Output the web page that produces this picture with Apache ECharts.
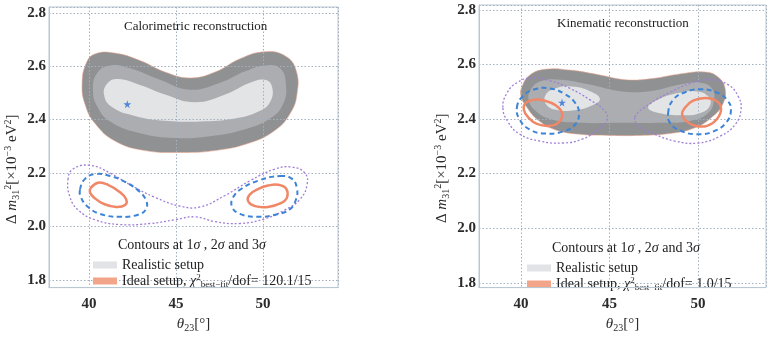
<!DOCTYPE html>
<html>
<head>
<meta charset="utf-8">
<script src="https://cdn.jsdelivr.net/npm/echarts@6/dist/echarts.min.js"></script>
<style>
  html, body { margin: 0; padding: 0; background: #fff; }
  #chart { width: 767px; height: 338px; }
</style>
</head>
<body>
<div id="chart"></div>
<script>
// ---- data: [theta23 (deg), dm31^2 (1e-3 eV^2)] ----
// Calorimetric reconstruction (left panel)
const calOuter = [[39.60,2.530],[39.83,2.610],[40.34,2.646],[41.49,2.649],[42.93,2.621],[44.37,2.578],[45.80,2.556],[47.24,2.578],[48.68,2.628],[50.11,2.654],[51.26,2.639],[51.90,2.585],[51.95,2.494],[51.55,2.422],[50.69,2.360],[49.25,2.313],[47.24,2.284],[45.23,2.277],[43.22,2.284],[41.49,2.320],[40.34,2.386],[39.77,2.458]];
const calMid = [[40.23,2.512],[40.46,2.574],[41.21,2.603],[42.36,2.592],[44.08,2.549],[45.80,2.512],[47.53,2.538],[48.97,2.581],[50.11,2.603],[50.98,2.592],[51.32,2.530],[51.15,2.458],[50.40,2.404],[48.97,2.364],[46.95,2.338],[44.94,2.331],[42.93,2.349],[41.21,2.393],[40.46,2.451]];
const calInner = [[40.86,2.494],[41.09,2.538],[41.67,2.552],[42.93,2.530],[44.37,2.494],[46.09,2.465],[47.82,2.494],[49.25,2.538],[50.11,2.549],[50.52,2.523],[50.40,2.465],[49.71,2.429],[48.39,2.404],[46.38,2.393],[44.37,2.396],[42.64,2.414],[41.32,2.447]];
const cal3s = [[38.79,2.175],[39.08,2.215],[40.06,2.229],[41.21,2.200],[42.36,2.156],[43.79,2.109],[45.23,2.076],[46.38,2.073],[47.82,2.116],[49.25,2.171],[50.69,2.215],[51.67,2.222],[52.41,2.200],[52.53,2.156],[52.13,2.102],[51.26,2.062],[50.11,2.029],[48.68,2.011],[47.24,2.018],[46.09,2.036],[44.94,2.025],[43.51,2.011],[41.78,2.007],[40.34,2.025],[39.37,2.062],[38.91,2.109]];
const cal2sL = [[39.48,2.138],[39.77,2.178],[40.34,2.196],[41.21,2.189],[42.07,2.167],[42.82,2.135],[43.28,2.098],[43.28,2.065],[42.82,2.044],[41.78,2.036],[40.63,2.047],[39.89,2.076],[39.54,2.109]];
const cal2sR = [[50.98,2.189],[51.67,2.178],[51.95,2.142],[51.90,2.102],[51.55,2.065],[50.69,2.044],[49.66,2.036],[48.68,2.047],[48.22,2.073],[48.28,2.109],[48.79,2.142],[49.71,2.171]];
const cal1sL = [[40.11,2.145],[40.52,2.164],[41.09,2.156],[41.72,2.131],[42.13,2.102],[42.07,2.080],[41.55,2.073],[40.86,2.084],[40.34,2.105],[40.06,2.127]];
const cal1sR = [[50.86,2.156],[51.32,2.142],[51.38,2.109],[51.03,2.087],[50.29,2.073],[49.54,2.076],[49.14,2.095],[49.25,2.120],[49.77,2.142],[50.29,2.153]];
const calBest = [[42.2,2.458]];

// Kinematic reconstruction (right panel)
const kinOuter = [[40.06,2.519],[40.51,2.561],[41.36,2.582],[42.77,2.579],[44.46,2.561],[45.88,2.544],[47.29,2.547],[48.98,2.565],[50.40,2.572],[51.13,2.554],[51.53,2.512],[51.41,2.456],[50.79,2.407],[49.83,2.368],[48.42,2.347],[46.72,2.340],[45.03,2.340],[43.33,2.344],[41.92,2.361],[40.96,2.396],[40.34,2.442],[40.00,2.484]];
const kinMid = [[40.51,2.502],[41.07,2.537],[42.20,2.544],[43.90,2.526],[45.59,2.502],[47.29,2.502],[48.98,2.526],[50.11,2.533],[50.79,2.512],[50.90,2.467],[50.56,2.421],[49.55,2.393],[47.85,2.386],[45.59,2.386],[43.33,2.386],[41.64,2.400],[40.79,2.432],[40.45,2.467]];
const kinInnerL = [[41.36,2.484],[41.92,2.512],[42.88,2.519],[43.90,2.502],[44.46,2.474],[44.01,2.449],[43.05,2.432],[42.09,2.432],[41.47,2.449]];
const kinInnerR = [[47.18,2.442],[47.85,2.474],[48.87,2.495],[49.83,2.502],[50.56,2.484],[50.68,2.449],[50.11,2.421],[48.98,2.414],[47.85,2.421]];
const kin3sL = [[38.98,2.442],[39.21,2.495],[39.77,2.533],[40.62,2.551],[41.64,2.540],[42.77,2.512],[43.90,2.470],[44.75,2.428],[44.86,2.396],[44.35,2.361],[43.45,2.326],[42.37,2.312],[41.07,2.319],[39.94,2.344],[39.27,2.389]];
const kin3sR = [[46.44,2.407],[47.29,2.456],[48.42,2.498],[49.55,2.530],[50.68,2.544],[51.69,2.526],[52.26,2.484],[52.43,2.435],[52.09,2.379],[51.24,2.337],[50.00,2.312],[48.70,2.319],[47.57,2.344],[46.72,2.372]];
const kin2sL = [[39.77,2.442],[40.11,2.484],[40.79,2.509],[41.64,2.512],[42.49,2.491],[43.05,2.460],[43.28,2.421],[43.05,2.379],[42.37,2.354],[41.36,2.347],[40.51,2.361],[39.94,2.396]];
const kin2sR = [[48.31,2.421],[48.59,2.470],[49.27,2.498],[50.11,2.509],[51.02,2.498],[51.64,2.470],[51.86,2.432],[51.58,2.386],[50.85,2.354],[49.94,2.344],[48.98,2.358],[48.42,2.386]];
const kin1sL = [[40.23,2.456],[40.68,2.470],[41.36,2.467],[41.98,2.449],[42.32,2.421],[42.15,2.389],[41.64,2.375],[40.90,2.382],[40.40,2.407],[40.17,2.432]];
const kin1sR = [[49.27,2.442],[49.72,2.467],[50.40,2.477],[51.02,2.467],[51.30,2.439],[51.07,2.400],[50.51,2.375],[49.83,2.375],[49.32,2.393],[49.10,2.418]];
const kinBest = [[42.32,2.460]];

const panelTitles = ['Calorimetric reconstruction', 'Kinematic reconstruction'];
const chiValues = ['120.1/15', '1.0/15'];

const SERIF = '"Liberation Serif", "DejaVu Serif", serif';
const REAL = 'Realistic setup';
const idealName = function (i) { return 'Ideal setup, χ2best-fit/dof= ' + chiValues[i]; };

// closed smooth shape drawn through the axis scales
function shape(name, pts, idx, style, z) {
  return {
    name: name,
    type: 'custom',
    xAxisIndex: idx,
    yAxisIndex: idx,
    z: z,
    silent: true,
    data: pts,
    renderItem: function (params, api) {
      if (params.dataIndex !== 0) return;
      const p = pts.map(function (d) { return api.coord(d); });
      return { type: 'polygon', shape: { points: p, smooth: 0.45 }, style: style };
    }
  };
}

const DARK = { fill: '#8f9193', stroke: 'rgba(236,165,140,0.55)', lineWidth: 1 };
const MID = { fill: '#abadb0' };
const LIGHT = { fill: '#e3e4e6' };
const DOT = { fill: 'none', stroke: '#9f7ed8', lineWidth: 1.3, lineDash: [2, 2] };
const DASH = { fill: 'none', stroke: '#3d84d6', lineWidth: 2, lineDash: [5, 3.5] };
const ORANGE = { fill: 'none', stroke: '#f08767', lineWidth: 2.5 };

function star(pts, idx) {
  return {
    type: 'scatter', xAxisIndex: idx, yAxisIndex: idx, z: 6, silent: true,
    symbol: 'path://M50,0 L61,35 L98,35 L68,57 L79,91 L50,70 L21,91 L32,57 L2,35 L39,35 Z',
    symbolSize: 8, itemStyle: { color: '#2b6fd3' }, data: pts
  };
}

const axisCommon = {
  type: 'value',
  z: 4,
  axisLine: { show: true, lineStyle: { color: '#b8c7d4', width: 1 } },
  axisTick: { show: false },
  splitLine: { show: true, lineStyle: { color: '#a3b1bf', type: [1.5, 2], width: 1 } },
  axisLabel: { showMinLabel: false, showMaxLabel: false, color: '#2b2b2b', fontFamily: SERIF, fontSize: 15, fontWeight: 'bold' }
};

const yName = '{d|Δ }{m|m}{s|31}{p|2}{t|[×10}{p|−3}{t| eV}{p|2}{t|]}';
const xName = '{m|θ}{s|23}{t|[°]}';
const nameRich = {
  d: { fontFamily: SERIF, fontSize: 15, color: '#2b2b2b', lineHeight: 18 },
  t: { fontFamily: SERIF, fontSize: 15, color: '#2b2b2b', lineHeight: 18 },
  m: { fontFamily: SERIF, fontSize: 15, fontStyle: 'italic', color: '#2b2b2b', lineHeight: 18 },
  s: { fontFamily: SERIF, fontSize: 10, color: '#2b2b2b', lineHeight: 10, verticalAlign: 'bottom' },
  p: { fontFamily: SERIF, fontSize: 10, color: '#2b2b2b', lineHeight: 10, verticalAlign: 'top' }
};

function xAxis(idx, min, max) {
  return Object.assign({}, axisCommon, {
    gridIndex: idx, min: min, max: max, splitNumber: 3,
    axisLabel: Object.assign({}, axisCommon.axisLabel, { margin: 9 }),
    name: xName, nameLocation: 'middle', nameGap: 16,
    nameTextStyle: { rich: nameRich }
  });
}
function yAxis(idx, min, max) {
  return Object.assign({}, axisCommon, {
    gridIndex: idx, min: min, max: max, splitNumber: 5,
    axisLabel: Object.assign({}, axisCommon.axisLabel, {
      margin: 3, formatter: function (v) { return v.toFixed(1); }
    }),
    name: yName, nameLocation: 'middle', nameGap: 28,
    nameTextStyle: { rich: nameRich, padding: [0, 44, 0, 0] }
  });
}

const legendRich = {
  t: { fontFamily: SERIF, fontSize: 14, color: '#222', lineHeight: 16 },
  c: { fontFamily: SERIF, fontSize: 14, fontStyle: 'italic', color: '#222', lineHeight: 16 },
  p: { fontFamily: SERIF, fontSize: 9, color: '#222', lineHeight: 9, verticalAlign: 'top' },
  b: { fontFamily: SERIF, fontSize: 9, color: '#222', lineHeight: 9, verticalAlign: 'bottom' }
};
function legend(idx, left, top) {
  return {
    orient: 'vertical', left: left, top: top,
    itemWidth: 24, itemHeight: 7, itemGap: 1, icon: 'rect',
    selectedMode: false,
    data: [
      { name: REAL, itemStyle: { color: '#e1e3e6' } },
      { name: idealName(idx), itemStyle: { color: '#f3a58a' } }
    ],
    formatter: function (name) {
      if (name === REAL) return '{t|' + REAL + '}';
      return '{t|Ideal setup, }{c|χ}{p|2}{b|best−fit}{t|/dof= ' + chiValues[idx] + '}';
    },
    textStyle: { rich: legendRich }
  };
}

const headerText = '{t|Contours at 1}{i|σ}{t| , 2}{i|σ}{t| and 3}{i|σ}';
const headerRich = {
  t: { fontFamily: SERIF, fontSize: 14, fontWeight: 'normal', color: '#222' },
  i: { fontFamily: SERIF, fontSize: 14, fontWeight: 'normal', fontStyle: 'italic', color: '#222' }
};
const titleStyle = { fontFamily: SERIF, fontSize: 13, fontWeight: 'normal', color: '#222' };

const chart = echarts.init(document.getElementById('chart'), null, { renderer: 'canvas' });
const option = {
  backgroundColor: '#fff',
  animation: false,
  title: [
    { text: panelTitles[0], left: 124, top: 20, padding: 0, textStyle: titleStyle },
    { text: panelTitles[1], left: 557, top: 17, padding: 0, textStyle: titleStyle },
    { text: headerText, left: 118, top: 238, padding: 0, textStyle: { fontWeight: 'normal', rich: headerRich } },
    { text: headerText, left: 552, top: 241, padding: 0, textStyle: { fontWeight: 'normal', rich: headerRich } }
  ],
  legend: [legend(0, 88, 253), legend(1, 522, 256)],
  grid: [
    { left: 49, top: 7, width: 289, height: 290, show: true, borderColor: '#b8c7d4', borderWidth: 1, backgroundColor: '#fff' },
    { left: 479, top: 5, width: 287, height: 295, show: true, borderColor: '#b8c7d4', borderWidth: 1, backgroundColor: '#fff' }
  ],
  xAxis: [xAxis(0, 37.70, 54.31), xAxis(1, 37.63, 53.84)],
  yAxis: [yAxis(0, 1.771, 2.8217), yAxis(1, 1.7825, 2.8175)],
  series: [
    shape(REAL, calOuter, 0, DARK, 1),
    shape(REAL, calMid, 0, MID, 1),
    shape(REAL, calInner, 0, LIGHT, 1),
    shape('3 sigma', cal3s, 0, DOT, 5),
    shape('2 sigma', cal2sL, 0, DASH, 5),
    shape('2 sigma', cal2sR, 0, DASH, 5),
    shape(idealName(0), cal1sL, 0, ORANGE, 5),
    shape(idealName(0), cal1sR, 0, ORANGE, 5),
    star(calBest, 0),

    shape(REAL, kinOuter, 1, DARK, 1),
    shape(REAL, kinMid, 1, MID, 1),
    shape(REAL, kinInnerL, 1, LIGHT, 1),
    shape(REAL, kinInnerR, 1, LIGHT, 1),
    shape('3 sigma', kin3sL, 1, DOT, 5),
    shape('3 sigma', kin3sR, 1, DOT, 5),
    shape('2 sigma', kin2sL, 1, DASH, 5),
    shape('2 sigma', kin2sR, 1, DASH, 5),
    shape(idealName(1), kin1sL, 1, ORANGE, 5),
    shape(idealName(1), kin1sR, 1, ORANGE, 5),
    star(kinBest, 1)
  ]
};
chart.setOption(option);
</script>
</body>
</html>
